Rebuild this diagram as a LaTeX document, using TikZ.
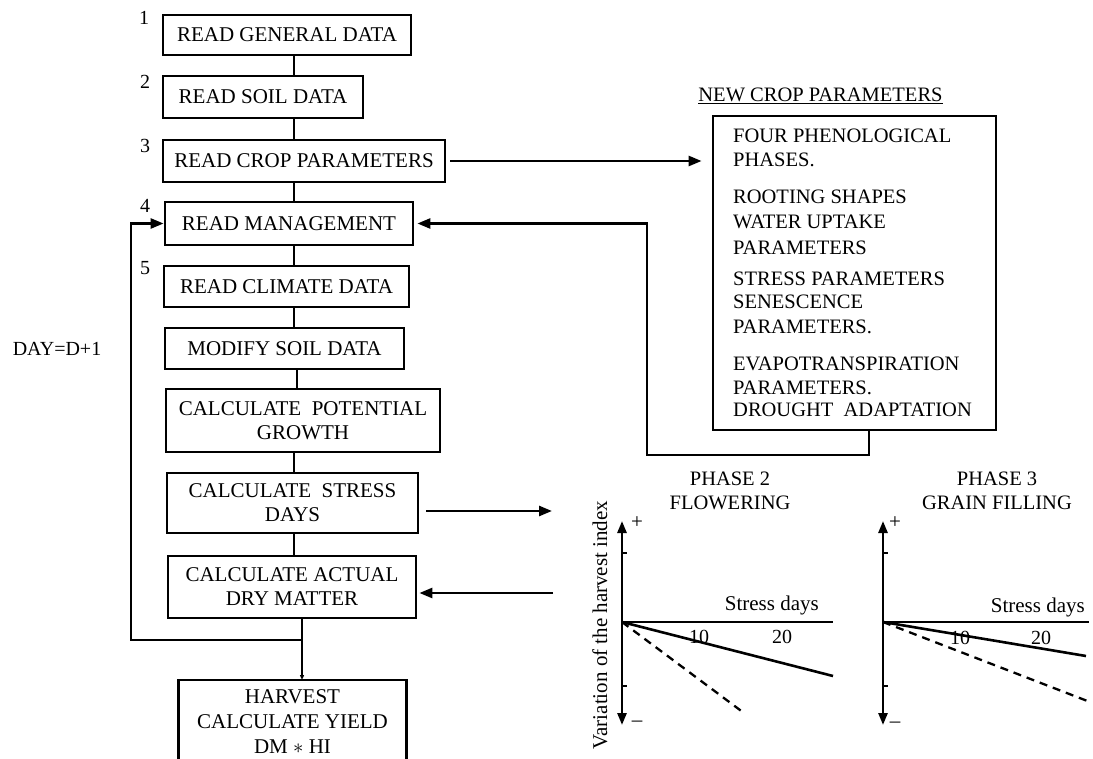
\documentclass[tikz,border=0pt]{standalone}
\usepackage{fontspec}
\setmainfont{Liberation Serif}
\usetikzlibrary{arrows.meta,calc}
\tikzset{
  boxtxt/.style={font=\fontsize{21}{24}\selectfont, align=center},
  flowbox/.style={draw, line width=2.8pt, inner sep=0pt, boxtxt},
  conn/.style={line width=2.6pt},
  arr/.style={conn, -{Triangle[length=13pt,width=10pt]}},
  smallarr/.style={conn, -{Triangle[length=5pt,width=4pt]}},
  axarr/.style={line width=2.6pt, {Triangle[length=12pt,width=9pt]}-{Triangle[length=12pt,width=9pt]}},
  sidetxt/.style={font=\fontsize{20.5}{24}\selectfont, inner sep=0pt},
  numtxt/.style={font=\fontsize{20}{24}\selectfont, inner sep=0pt},
  pmtxt/.style={font=\fontsize{21}{24}\selectfont, inner sep=0pt},
  curve/.style={line width=2.6pt},
  dcurve/.style={line width=2.3pt, dash pattern=on 8pt off 6pt},
}
\begin{document}
\begin{tikzpicture}[x=1pt,y=-1pt]
\useasboundingbox (0,0) rectangle (1093,759);
% flow boxes
\node[flowbox, minimum width=248, minimum height=40] (b1) at (287,35) {READ GENERAL DATA};
\node[flowbox, minimum width=200, minimum height=42] (b2) at (263,97) {READ SOIL DATA};
\node[flowbox, minimum width=282, minimum height=42] (b3) at (304,161) {READ CROP PARAMETERS};
\node[flowbox, minimum width=248, minimum height=43] (b4) at (289,223.5) {READ MANAGEMENT};
\node[flowbox, minimum width=245, minimum height=41] (b5) at (286.5,286.5) {READ CLIMATE DATA};
\node[flowbox, minimum width=239, minimum height=41] (b6) at (284.5,348.5) {MODIFY SOIL DATA};
\node[flowbox, minimum width=274, minimum height=63] (b7) at (303,420.5) {CALCULATE\ \ POTENTIAL\\GROWTH};
\node[flowbox, minimum width=251, minimum height=60] (b8) at (292.5,503) {CALCULATE\ \ STRESS\\DAYS};
\node[flowbox, minimum width=248, minimum height=62] (b9) at (292,587) {CALCULATE ACTUAL\\DRY MATTER};
\node[boxtxt, font=\fontsize{21}{25}\selectfont, inner sep=0pt, minimum width=227, minimum height=82, anchor=north] (b10) at (292.5,680) {HARVEST\\CALCULATE YIELD\\DM $*$ HI};
\draw[line width=2.8pt] (b10.south west) -- (b10.north west) -- (b10.north east) -- (b10.south east);

% step numbers
\node[numtxt] (n1) at (144,18) {1};
\node[numtxt] (n2) at (145,82) {2};
\node[numtxt] (n3) at (145,146) {3};
\node[numtxt] (n4) at (145,206) {4};
\node[numtxt] (n5) at (145,268) {5};

% spine connectors
\coordinate (sp) at (294,0);
\draw[conn] (b1.south -| sp) -- (b2.north -| sp);
\draw[conn] (b2.south -| sp) -- (b3.north -| sp);
\draw[conn] (b3.south -| sp) -- (b4.north -| sp);
\draw[conn] (b4.south -| sp) -- (b5.north -| sp);
\draw[conn] (b5.south -| sp) -- (b6.north -| sp);
\draw[conn] ($(b6.south -| sp)+(3,0)$) -- ($(b7.north -| sp)+(3,0)$);
\draw[conn] (b7.south -| sp) -- (b8.north -| sp);
\draw[conn] (b8.south -| sp) -- (b9.north -| sp);

% loop back
\coordinate (j) at (302,640);
\coordinate (lp) at (131,223.5);
\draw[arr] (b9.south -| j) -- (j) -| (lp) -- (b4.west);
\draw[smallarr] (j) -- (b10.north -| j);
\node[font=\fontsize{20}{24}\selectfont, inner sep=0pt] (day) at (57,349) {DAY=D+1};

% new crop parameters box
\node[sidetxt] (ncp) at (820.5,96) {\underline{NEW CROP PARAMETERS}};
\node[draw, line width=2.8pt, minimum width=283, minimum height=314, inner sep=0pt] (pbox) at (854.5,273) {};
\foreach \t/\y [count=\i] in {FOUR PHENOLOGICAL/136, PHASES./160, ROOTING SHAPES/197, WATER UPTAKE/222, PARAMETERS/248, STRESS PARAMETERS/279, SENESCENCE/302, PARAMETERS./327, EVAPOTRANSPIRATION/364, PARAMETERS./388, DROUGHT\ \ ADAPTATION/410}
  \node[sidetxt, anchor=west] (p\i) at (733,\y) {\t};

\draw[arr, shorten <=4pt, shorten >=10pt] (b3.east) -- (b3.east -| pbox.west);
\coordinate (r1) at (869,455);
\coordinate (r2) at (647,223.5);
\draw[arr, shorten >=3pt] (pbox.south -| r1) -- (r1) -| (r2) -- (b4.east);

% stress arrows
\coordinate (s1) at (552,511);
\coordinate (s2) at (553,593);
\draw[arr, shorten <=7pt] (b8.east |- s1) -- (s1);
\draw[arr, shorten >=2pt] (s2) -- (b9.east |- s2);

% graph 1
\coordinate (o1) at (622,622);
\node[sidetxt, align=center, font=\fontsize{20.5}{24}\selectfont] (g1t) at (730,491) {PHASE 2\\FLOWERING};
\draw[axarr] (622,725) -- (622,521);
\draw[line width=1.5pt] (622,553) -- (627,553) (622,686) -- (627,686);
\draw[line width=2.6pt] (o1) -- (833,622);
\node[pmtxt] (g1p) at (637,523) {+};
\node[pmtxt] (g1m) at (637,724) {\textendash};
\node[sidetxt, font=\fontsize{21}{24}\selectfont, anchor=east] (g1x) at (819,605) {Stress days};
\node[sidetxt, font=\fontsize{20}{24}\selectfont] (g1a) at (699,637) {10};
\node[sidetxt, font=\fontsize{20}{24}\selectfont] (g1b) at (782,637) {20};
\draw[curve] (o1) -- (833,676);
\draw[dcurve] (o1) -- (744,713);
\node[sidetxt, font=\fontsize{21}{24}\selectfont, rotate=90] (ylab) at (600,625) {Variation of the harvest index};

% graph 2
\coordinate (o2) at (883,622);
\node[sidetxt, align=center, font=\fontsize{20.5}{24}\selectfont] (g2t) at (997,491) {PHASE 3\\GRAIN FILLING};
\draw[axarr] (883,725) -- (883,521);
\draw[line width=1.5pt] (883,553) -- (888,553) (883,686) -- (888,686);
\draw[line width=2.6pt] (o2) -- (1089,622);
\node[pmtxt] (g2p) at (895,523) {+};
\node[pmtxt] (g2m) at (895,725) {\textendash};
\node[sidetxt, font=\fontsize{21}{24}\selectfont, anchor=east] (g2x) at (1085,607) {Stress days};
\node[sidetxt, font=\fontsize{20}{24}\selectfont] (g2a) at (960,638) {10};
\node[sidetxt, font=\fontsize{20}{24}\selectfont] (g2b) at (1041,638) {20};
\draw[curve] (o2) -- (1086,656);
\draw[dcurve] (o2) -- (1090,702);
\end{tikzpicture}
\end{document}
